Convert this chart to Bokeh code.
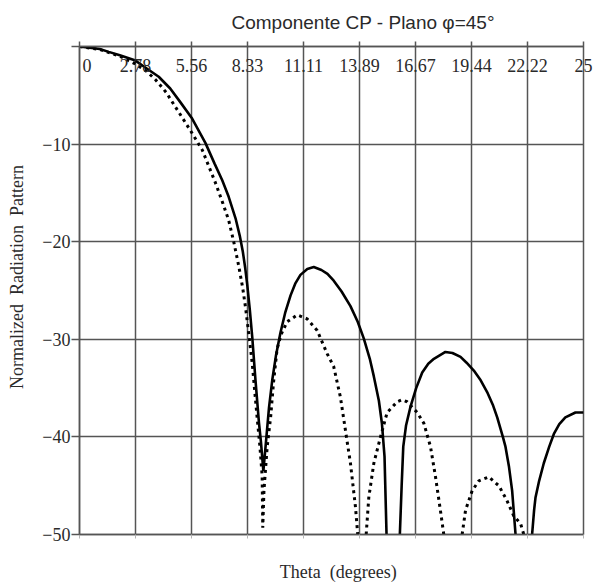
import numpy as np
from bokeh.plotting import figure
from bokeh.models import Range1d, LinearAxis, FixedTicker, Grid, ColumnDataSource
from bokeh.embed import file_html
from bokeh.resources import INLINE
from bokeh.core.properties import value

nan = float("nan")

# ---- data ----
title_text = "Componente CP - Plano \u03c6=45\u00b0"
x_title = "Theta\u00a0 (degrees)"
y_title = "Normalized\u00a0 Radiation\u00a0 Pattern"
x_ticks = [0, 2.78, 5.56, 8.33, 11.11, 13.89, 16.67, 19.44, 22.22, 25]
x_tick_labels = ["0", "2.78", "5.56", "8.33", "11.11", "13.89", "16.67", "19.44", "22.22", "25"]
y_ticks = [0, -10, -20, -30, -40, -50]
y_tick_labels = ["0", "\u221210", "\u221220", "\u221230", "\u221240", "\u221250"]

theta_solid = [0, 1.0, 1.45, 2.0, 2.74, 3.3, 3.93, 4.5, 5.0, 5.56, 6.25, 6.7, 7.08, 7.4, 7.74,
               7.95, 8.1, 8.22, 8.32, 8.45, 8.57, 8.73, 8.9, 9.0, 9.12, 9.25, 9.4, 9.56, 9.75, 9.97,
               10.2, 10.47, 10.7, 10.96, 11.3, 11.62, 12.0, 12.3, 12.61, 13.0, 13.44, 13.8, 14.1, 14.4, 14.6,
               14.85, 15.0, 15.13, 15.23, nan,
               15.89, 15.98, 16.06, 16.2, 16.42, 16.7, 17.0, 17.3, 17.58, 18.15, 18.5, 18.9, 19.2,
               19.56, 19.9, 20.22, 20.5, 20.72, 21.0, 21.13, 21.3, 21.46, 21.63, nan,
               22.45, 22.55, 22.62, 22.8, 23.03, 23.3, 23.53, 23.8, 24.1, 24.6, 25.0]
db_solid = [0, -0.25, -0.55, -0.9, -1.4, -2.2, -3.1, -4.3, -5.7, -7.3, -9.9, -12.0, -13.7, -15.4, -17.6,
            -19.4, -21.0, -22.7, -24.4, -27.0, -29.8, -34.2, -38.5, -40.5, -43.5, -40.5, -37.0, -34.2, -31.6, -29.3,
            -27.3, -25.5, -24.3, -23.4, -22.8, -22.6, -22.9, -23.3, -24.0, -25.1, -26.6, -28.2, -29.9, -32.0, -33.8,
            -36.3, -38.6, -42.0, -50.0, nan,
            -50.0, -45.0, -41.0, -38.8, -36.9, -35.0, -33.4, -32.5, -32.0, -31.3, -31.4, -31.8, -32.4,
            -33.2, -34.2, -35.4, -36.7, -38.0, -40.0, -41.0, -43.0, -45.5, -50.0, nan,
            -50.0, -47.5, -46.2, -44.5, -42.7, -41.0, -39.7, -38.7, -38.0, -37.5, -37.5]

theta_dotted = [0, 1.0, 2.0, 2.74, 3.3, 3.77, 4.3, 4.76, 5.1, 5.5, 6.09, 6.4, 6.75, 7.1, 7.4, 7.65,
                7.9, 8.1, 8.24, 8.4, 8.57, 8.7, 8.81, 8.95, 9.06, 9.09, 9.15, 9.31, 9.48, 9.62, 9.8,
                10.0, 10.3, 10.8, 11.29, 11.79, 12.29, 12.61, 12.94, 13.19, 13.44, 13.69, 13.8, nan,
                14.22, 14.35, 14.6, 14.93, 15.26, 15.76, 16.0, 16.25, 16.75, 17.08, 17.41, 17.66, 17.9,
                18.07, nan,
                18.98, 19.15, 19.48, 19.81, 20.3, 20.8, 21.2, 21.54, 21.88, 22.04]
db_dotted = [0, -0.3, -1.0, -1.75, -2.5, -3.4, -4.7, -6.2, -7.3, -8.6, -10.6, -12.2, -14.0, -16.0, -17.8, -20.0,
             -22.5, -24.8, -26.8, -29.5, -32.5, -35.5, -38.0, -41.0, -44.0, -49.3, -45.5, -41.0, -38.0, -34.5, -31.0,
             -29.5, -28.2, -27.5, -27.9, -29.1, -31.5, -32.8, -35.9, -39.3, -42.7, -47.2, -50.0, nan,
             -50.0, -46.2, -42.7, -40.0, -37.5, -36.4, -36.2, -36.4, -37.5, -38.6, -41.0, -44.1, -47.5,
             -50.0, nan,
             -50.0, -47.5, -45.5, -44.5, -44.1, -45.0, -46.5, -48.1, -48.9, -50.0]

# ---- style ----
GRID = "#555555"
TEXT = "#2a2a2a"
SERIF = "Liberation Serif"
SANS = "Liberation Sans"
NB = "\u00a0"

p = figure(width=594, height=587, x_range=Range1d(0, 25), y_range=Range1d(-50, 0),
           output_backend="svg", toolbar_location=None,
           x_axis_location=None, y_axis_location=None,
           min_border_left=79, min_border_right=11, min_border_top=46, min_border_bottom=53)
p.center = [r for r in p.center if not isinstance(r, Grid)]
p.background_fill_color = "white"
p.border_fill_color = "white"
p.outline_line_color = GRID
p.outline_line_width = 1.5

p.add_layout(Grid(dimension=0, ticker=FixedTicker(ticks=x_ticks), grid_line_color=GRID, grid_line_width=1.5))
p.add_layout(Grid(dimension=1, ticker=FixedTicker(ticks=y_ticks), grid_line_color=GRID, grid_line_width=1.5))

# top axis: tick marks outside, labels drawn just inside the frame
top = LinearAxis(ticker=FixedTicker(ticks=x_ticks[1:], minor_ticks=x_ticks[:1]),
                 major_label_overrides={t: l for t, l in zip(x_ticks[1:], x_tick_labels[1:])},
                 major_tick_out=5, major_tick_in=0, minor_tick_out=5, minor_tick_in=0,
                 major_label_standoff=-30,
                 axis_line_color=GRID, axis_line_width=1.5,
                 major_tick_line_color=GRID, major_tick_line_width=1.5,
                 minor_tick_line_color=GRID, minor_tick_line_width=1.5,
                 major_label_text_font=SERIF, major_label_text_font_size="18px",
                 major_label_text_color=TEXT)
p.add_layout(top, "above")

# chart title carried by an otherwise empty axis above
title_axis = LinearAxis(ticker=FixedTicker(ticks=[]), axis_line_color=None,
                        major_tick_line_color=None, minor_tick_line_color=None,
                        axis_label=NB * 12 + title_text, axis_label_standoff=14,
                        axis_label_text_font=SANS, axis_label_text_font_size="19px",
                        axis_label_text_font_style="normal", axis_label_text_color=TEXT)
p.add_layout(title_axis, "above")

left = LinearAxis(ticker=FixedTicker(ticks=y_ticks[1:], minor_ticks=y_ticks[:1]),
                  major_label_overrides={t: l for t, l in zip(y_ticks[1:], y_tick_labels[1:])},
                  major_tick_out=8, major_tick_in=0, minor_tick_out=8, minor_tick_in=0,
                  major_label_standoff=1,
                  axis_line_color=GRID, axis_line_width=1.5,
                  major_tick_line_color=GRID, major_tick_line_width=1.5,
                  minor_tick_line_color=GRID, minor_tick_line_width=1.5,
                  major_label_text_font=SERIF, major_label_text_font_size="18px",
                  major_label_text_color=TEXT,
                  axis_label=NB * 6 + y_title, axis_label_standoff=12,
                  axis_label_text_font=SERIF, axis_label_text_font_size="18px",
                  axis_label_text_font_style="normal", axis_label_text_color=TEXT)
p.add_layout(left, "left")

bottom = LinearAxis(ticker=FixedTicker(ticks=[], minor_ticks=x_ticks),
                    major_tick_out=0, major_tick_in=0, minor_tick_out=4, minor_tick_in=0,
                    axis_line_color=GRID, axis_line_width=1.5,
                    minor_tick_line_color="#b5b5b5", minor_tick_line_width=1,
                    axis_label=NB * 3 + x_title, axis_label_standoff=23,
                    axis_label_text_font=SERIF, axis_label_text_font_size="18px",
                    axis_label_text_font_style="normal", axis_label_text_color=TEXT)
p.add_layout(bottom, "below")

# first x label, placed just right of the left axis
p.text(x=[x_ticks[0]], y=[y_ticks[0]], text=[x_tick_labels[0]], x_offset=3, y_offset=19,
       text_font=value(SERIF), text_font_size="18px", text_color=TEXT,
       text_align="left", text_baseline="alphabetic")

src_s = ColumnDataSource(dict(x=np.array(theta_solid, dtype=float), y=np.array(db_solid, dtype=float)))
src_d = ColumnDataSource(dict(x=np.array(theta_dotted, dtype=float), y=np.array(db_dotted, dtype=float)))
p.line("x", "y", source=src_s, line_color="black", line_width=2.6)
p.line("x", "y", source=src_d, line_color="black", line_width=3, line_dash="3 4")

open("out.html", "w").write(file_html(p, INLINE))
